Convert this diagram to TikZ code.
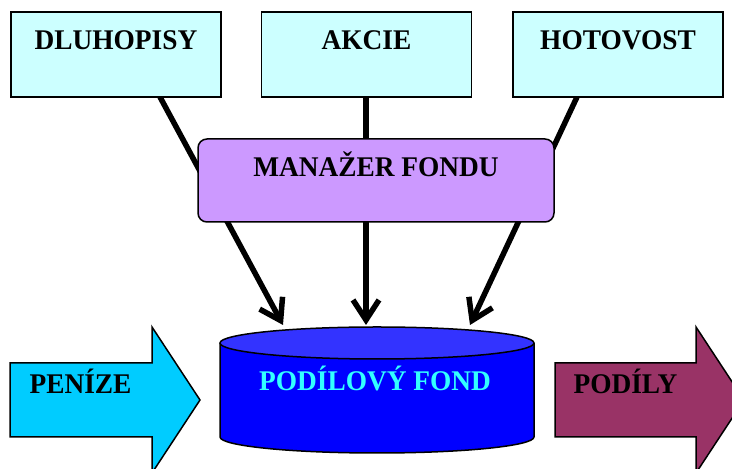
\documentclass[tikz,border=0pt]{standalone}
\usepackage{fontspec}
\setmainfont{Liberation Serif}[FakeStretch=0.96]
\usetikzlibrary{arrows.meta}
\definecolor{boxcyan}{HTML}{CCFFFF}
\definecolor{mgrviolet}{HTML}{CC99FF}
\definecolor{fundbody}{HTML}{0000FF}
\definecolor{fundtop}{HTML}{3333FF}
\definecolor{fundtext}{HTML}{33FFFF}
\definecolor{moneycol}{HTML}{00CCFF}
\definecolor{sharecol}{HTML}{993366}
\begin{document}
\begin{tikzpicture}[x=1bp,y=1bp,
  bigfont/.style={font=\fontsize{28.5bp}{31bp}\selectfont\bfseries},
  lbl/.style={bigfont, inner sep=0pt, text height=19bp, text depth=0pt},
  topbox/.style={bigfont, draw=black, line width=1.5bp, fill=boxcyan, minimum width=210bp, minimum height=85bp, inner sep=0pt, text height=19bp, text depth=29.6bp},
  mgrbox/.style={bigfont, draw=black, line width=1.5bp, fill=mgrviolet, rounded corners=9bp, minimum width=356bp, minimum height=83bp, inner sep=0pt, text height=19bp, text depth=26bp},
  conn/.style={line width=5.5bp, -{Straight Barb[length=20bp,width=26bp]}},
  flow/.style={draw=black, line width=1.5bp}
]
\useasboundingbox (0,0) rectangle (732,469);
\clip (0,0) rectangle (732,469);

% fund cylinder
\fill[fundbody] (220,126) -- (220,32) arc[start angle=180, end angle=360, x radius=157, y radius=16] -- (534,126) -- cycle;
\draw[line width=1.5bp] (220,126) -- (220,32) arc[start angle=180, end angle=360, x radius=157, y radius=16] -- (534,126);
\draw[line width=1.5bp, fill=fundtop] (377,126) ellipse[x radius=157, y radius=16];
\node[lbl, text=fundtext] (fund) at (375,88) {PODÍLOVÝ FOND};

% money and shares arrows
\draw[flow, fill=moneycol] (10,32) -- (10,106) -- (152,106) -- (152,142) -- (200,69) -- (152,-4) -- (152,32) -- cycle;
\node[lbl] (money) at (80.5,85) {PENÍZE};
\draw[flow, fill=sharecol] (555,32) -- (555,106) -- (696,106) -- (696,142) -- (744,69) -- (696,-4) -- (696,32) -- cycle;
\node[lbl] (shares) at (625.5,85) {PODÍLY};

% connector ends
\coordinate (dlout) at (160,372);
\coordinate (akout) at (366,372);
\coordinate (hoout) at (577,372);
\coordinate (in1) at (283,144);
\coordinate (in2) at (366,144);
\coordinate (in3) at (470,144);

\draw[conn] (dlout) -- (in1);
\draw[conn] (akout) -- (in2);
\draw[conn] (hoout) -- (in3);

% top boxes
\node[topbox] (dl) at (116,414.5) {DLUHOPISY};
\node[topbox] (ak) at (366.5,414.5) {AKCIE};
\node[topbox] (ho) at (618,414.5) {HOTOVOST};

% manager
\node[mgrbox] (mgr) at (376,288.5) {MANAŽER FONDU};
\end{tikzpicture}
\end{document}
